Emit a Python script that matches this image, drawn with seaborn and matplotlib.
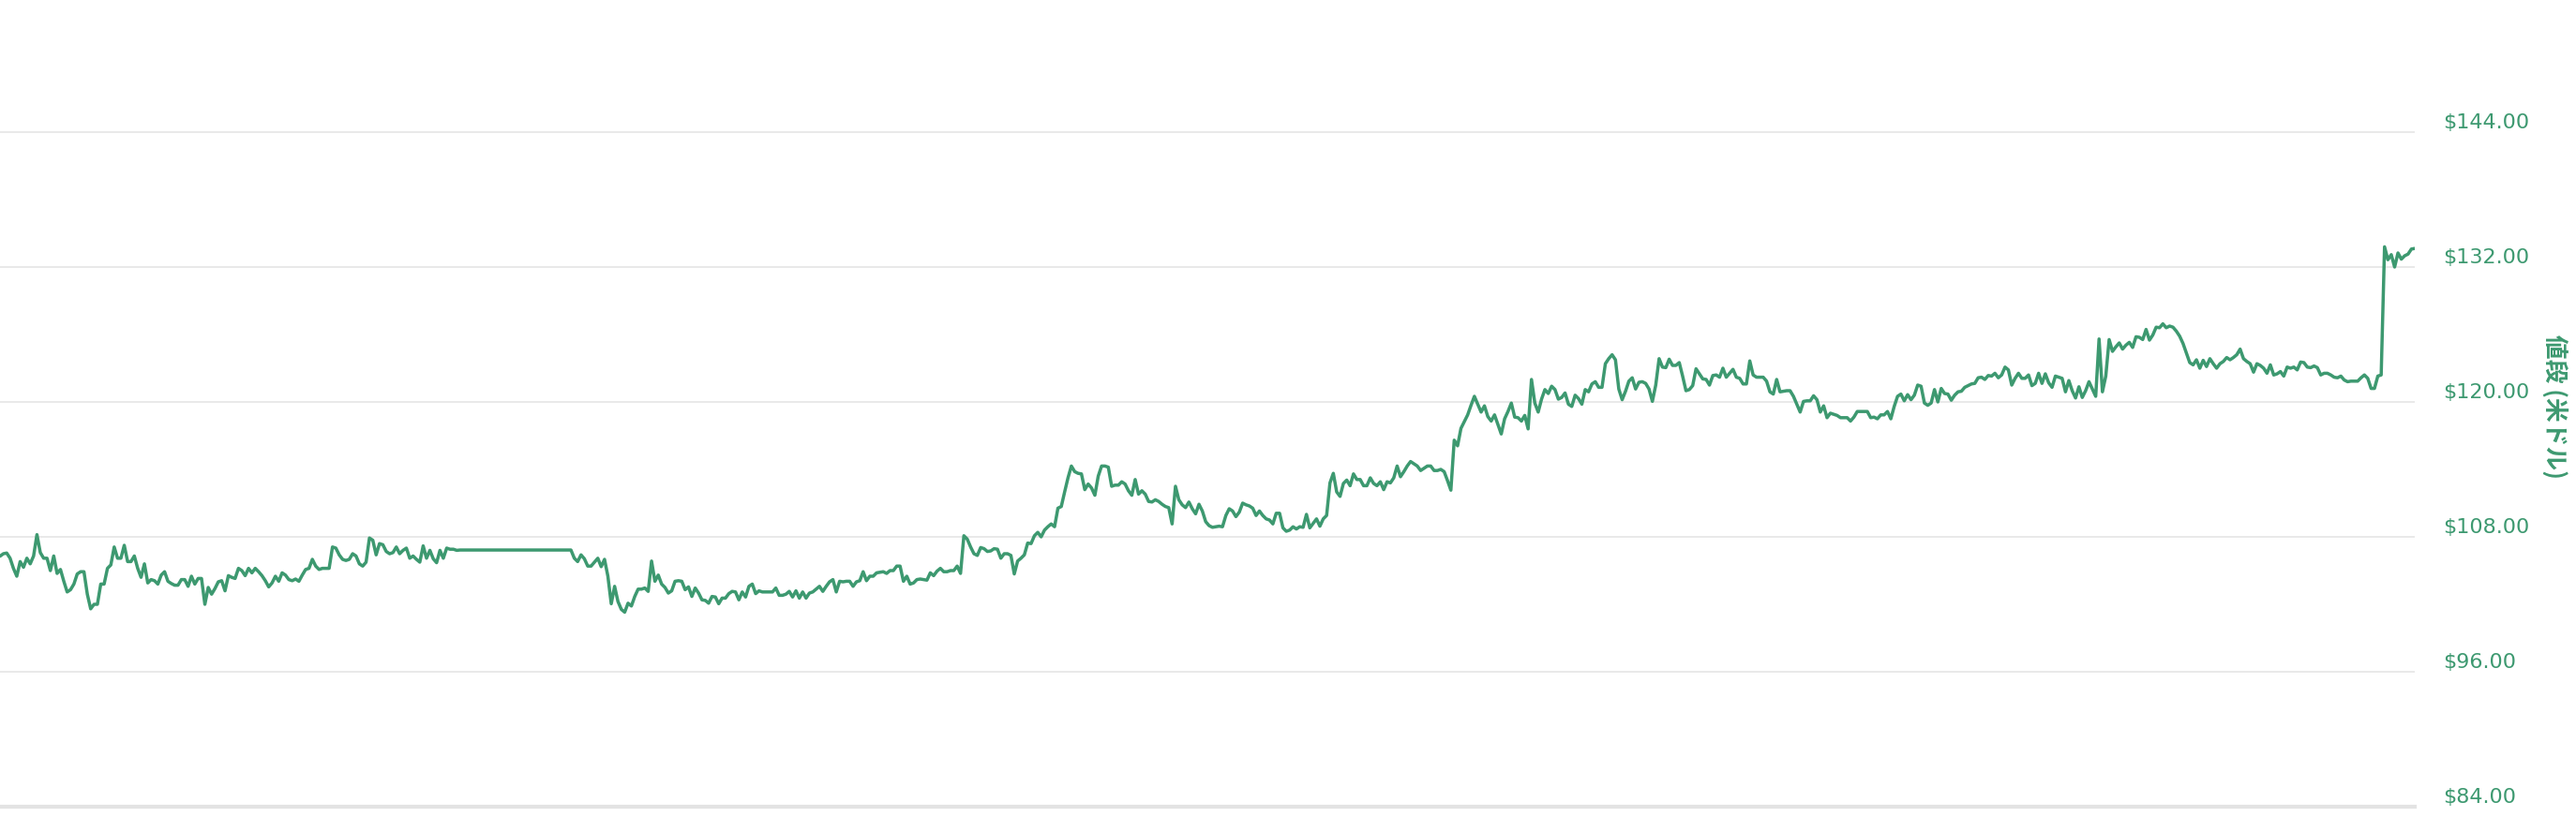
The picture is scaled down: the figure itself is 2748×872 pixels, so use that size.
import numpy as np
import pandas as pd
import matplotlib
matplotlib.use("Agg")
import matplotlib.pyplot as plt
import seaborn as sns

# daily closing price (USD)
# before the flat stretch (no trading data)
prices_before_gap = [
    106.28, 106.5, 106.56, 106.1, 105.2, 104.5, 105.8, 105.3, 106.1, 105.6,
    106.3, 108.2, 106.6, 106.1, 106.1, 105.0, 106.3, 104.75, 105.1, 104.05,
    103.1, 103.3, 103.8, 104.7, 104.9, 104.9, 102.9, 101.6, 102.0, 102.0,
    103.8, 103.8, 105.2, 105.5, 107.1, 106.1, 106.1, 107.25, 105.8, 105.8,
    106.3, 105.2, 104.4, 105.6, 103.9, 104.2, 104.1, 103.8, 104.6, 104.9,
    104.05, 103.85, 103.7, 103.7, 104.2, 104.2, 103.6, 104.5, 103.8, 104.3,
    104.3, 102.0, 103.5, 102.9, 103.4, 104.0, 104.1, 103.2, 104.55, 104.4,
    104.3, 105.2, 105.0, 104.55, 105.2, 104.8, 105.2, 104.9, 104.55, 104.1,
    103.55, 103.9, 104.5, 104.05, 104.8, 104.6, 104.2, 104.1, 104.25, 104.05,
    104.6, 105.1, 105.2, 106.0, 105.4, 105.1, 105.2, 105.2, 105.2, 107.1,
    107.0, 106.4, 106.0, 105.9, 106.0, 106.5, 106.3, 105.6, 105.4, 105.75,
    107.9, 107.7, 106.4, 107.4, 107.3, 106.7, 106.5, 106.6, 107.1, 106.5,
    106.8, 107.0, 106.1, 106.3, 106.0, 105.75, 107.2, 106.1, 106.8, 106.05,
    105.7, 106.8, 106.1, 107.0, 106.9, 106.9, 106.8, 106.83,
]
gap_days = 33

prices_after_gap = [
    106.83, 106.1, 105.8, 106.4, 106.05, 105.4, 105.4, 105.75, 106.1, 105.35,
    106.0, 104.5, 102.05, 103.6, 102.25, 101.55, 101.3, 102.1, 101.85, 102.7,
    103.35, 103.35, 103.45, 103.15, 105.85, 104.05, 104.6, 103.8, 103.5, 103.0,
    103.2, 104.05, 104.1, 104.05, 103.3, 103.55, 102.7, 103.45, 103.0, 102.4,
    102.35, 102.1, 102.7, 102.65, 102.05, 102.55, 102.55, 102.95, 103.15, 103.1,
    102.4, 103.1, 102.65, 103.6, 103.8, 102.95, 103.2, 103.1, 103.1, 103.1,
    103.1, 103.45, 102.8, 102.8, 102.9, 103.15, 102.65, 103.2, 102.55, 103.1,
    102.55, 103.0, 103.1, 103.35, 103.6, 103.15, 103.6, 104.0, 104.2, 103.1,
    104.05, 104.0, 104.05, 104.05, 103.6, 104.0, 104.1, 104.9, 104.1, 104.5,
    104.5, 104.8, 104.85, 104.9, 104.75, 105.0, 105.0, 105.4, 105.4, 104.05,
    104.5, 103.8, 103.9, 104.2, 104.25, 104.2, 104.15, 104.8, 104.55, 104.95,
    105.2, 104.9, 104.9, 105.0, 105.0, 105.4, 104.75, 108.1, 107.8, 107.1,
    106.5, 106.35, 107.05, 106.95, 106.7, 106.75, 106.95, 106.9, 106.1, 106.5,
    106.5, 106.35, 104.7, 105.85, 106.1, 106.4, 107.45, 107.4, 108.1,
    108.4, 108.0, 108.6, 108.9,
    109.15, 108.9, 110.55, 110.7, 112.0, 113.25, 114.3, 113.8, 113.65, 113.6,
    112.2, 112.7, 112.35, 111.7, 113.4, 114.3, 114.3, 114.2, 112.5, 112.6,
    112.6, 112.9, 112.7, 112.1, 111.7, 113.1, 111.8, 112.1, 111.8, 111.15,
    111.1, 111.3, 111.15, 110.9, 110.7, 110.6, 109.15, 112.5, 111.3, 110.85,
    110.6, 111.1, 110.5, 110.05, 110.9, 110.3, 109.35, 109.0, 108.85, 108.9,
    108.95, 108.9, 109.9, 110.5, 110.3, 109.8, 110.2, 111.0, 110.85, 110.75,
    110.55, 109.9, 110.3, 109.9, 109.6, 109.5, 109.15, 110.1, 110.1, 108.8,
    108.5, 108.6, 108.9, 108.7, 108.9, 108.85, 110.0, 108.8, 109.2, 109.6,
    108.95, 109.6, 109.9, 112.8, 113.65, 112.0, 111.6, 112.75, 113.05, 112.55,
    113.6, 113.1, 113.1, 112.55, 112.55, 113.25, 112.75, 112.55, 112.9, 112.2,
    112.9, 112.8, 113.25, 114.3, 113.35, 113.8, 114.3, 114.7, 114.5, 114.3,
    113.9, 114.1, 114.3, 114.3, 113.9, 113.9, 114.0, 113.8, 113.0, 112.15,
    116.6, 116.1, 117.65, 118.25, 118.85, 119.7, 120.5, 119.8, 119.1, 119.65,
    118.7, 118.3, 118.85, 118.0, 117.15, 118.5, 119.15, 119.9, 118.65, 118.6,
    118.3, 118.8, 117.6, 122.0,
    119.9, 119.1, 120.25, 121.1, 120.75, 121.4, 121.1, 120.25, 120.4, 120.8,
    119.8, 119.6, 120.6, 120.3, 119.8, 121.1, 120.9, 121.6, 121.8, 121.3,
    121.3, 123.4, 123.85, 124.2, 123.75, 121.15, 120.2, 120.95, 121.85, 122.15,
    121.15, 121.75, 121.8, 121.65, 121.15, 120.05, 121.5, 123.85, 123.1, 123.05,
    123.8, 123.25, 123.25, 123.5, 122.3, 121.0, 121.1, 121.45, 122.95, 122.5,
    122.05, 122.0, 121.5, 122.35, 122.4, 122.2, 123.0, 122.2, 122.55, 122.9,
    122.2, 122.1, 121.6, 121.6, 123.65, 122.4, 122.2, 122.2, 122.2, 121.85,
    120.9, 120.7, 122.0, 120.9, 120.95, 121.0, 121.0, 120.5, 119.8, 119.1,
    120.05, 120.1, 120.1, 120.55, 120.2, 119.1, 119.65, 118.6, 119.0, 118.9,
    118.8, 118.6, 118.6, 118.6, 118.3, 118.65, 119.15, 119.15, 119.15, 119.15,
    118.6, 118.65, 118.5, 118.85, 118.85, 119.15, 118.5, 119.6, 120.5, 120.7,
    120.1, 120.65, 120.2, 120.6, 121.5, 121.4, 119.9, 119.7, 119.9, 121.1,
    120.0, 121.2, 120.75, 120.7, 120.15, 120.6, 120.9, 120.95, 121.3, 121.45,
    121.6, 121.65, 122.15, 122.2, 122.0, 122.35, 122.3, 122.55, 122.15, 122.4,
    123.1, 122.85, 121.5, 122.1, 122.55, 122.1, 122.1, 122.4,
    121.45, 121.65, 122.55, 121.65, 122.5, 121.7, 121.3, 122.3, 122.2, 122.1,
    120.9, 121.9, 121.0, 120.35, 121.35, 120.4, 121.0, 121.8, 121.15, 120.5,
    125.6, 120.9, 122.3, 125.55, 124.5, 124.9, 125.25, 124.7, 125.05, 125.3,
    124.85, 125.8, 125.75, 125.55, 126.45, 125.5, 125.95, 126.65, 126.6, 126.95,
    126.6, 126.75, 126.65, 126.3, 125.85, 125.2, 124.35, 123.5, 123.3, 123.75,
    123.0, 123.7, 123.15, 123.85, 123.4, 123.0, 123.4, 123.6, 123.95, 123.75,
    123.95, 124.2, 124.7, 123.85, 123.6, 123.4, 122.65, 123.4, 123.25, 123.0,
    122.55, 123.3, 122.4, 122.5, 122.7, 122.3, 123.1, 123.0, 123.1, 122.85,
    123.55, 123.5, 123.1, 123.05, 123.2, 123.05, 122.4, 122.55, 122.55, 122.4,
    122.2, 122.15, 122.3, 121.95, 121.8, 121.85, 121.85, 121.85, 122.15, 122.4,
    122.1, 121.2, 121.2, 122.3, 122.4, 133.8, 132.65, 133.1, 132.0, 133.25,
    132.7, 133.0, 133.15, 133.6, 133.65,
]

y_ticks = [84, 96, 108, 120, 132, 144]
y_label = "値段 (米ドル)"

green = "#3d9970"

n1 = len(prices_before_gap)
day_before = np.arange(n1)
day_after = np.arange(len(prices_after_gap)) + (n1 - 1 + gap_days)
df = pd.DataFrame({
    "day": np.concatenate([day_before, day_after]),
    "price": prices_before_gap + prices_after_gap,
})

sns.set_theme(style="white")
plt.rcParams["font.family"] = ["DejaVu Sans"]

W, H = 2748, 872
fig = plt.figure(figsize=(W / 100, H / 100), dpi=100)
ax = fig.add_axes([0, 11 / H, 2576 / W, 1 - 11 / H])

sns.lineplot(data=df, x="day", y="price", ax=ax, color=green, linewidth=2.5)

ax.set_xlim(df["day"].min(), df["day"].max())
ax.set_ylim(84, 144 + 141 / 144 * 12)
ax.set_yticks(y_ticks)
ax.set_yticklabels(["${:.2f}".format(v) for v in y_ticks])
ax.yaxis.tick_right()
ax.tick_params(axis="y", length=0, pad=22, labelsize=16, labelcolor=green)
for lab in ax.get_yticklabels():
    lab.set_va("bottom")
ax.set_xticks([])
ax.set_xlabel("")
ax.set_ylabel("")
ax.grid(axis="y", color="#e3e3e3", linewidth=1.1)
ax.set_axisbelow(True)
for side in ["top", "left", "right"]:
    ax.spines[side].set_visible(False)
ax.spines["bottom"].set_color("#e3e3e3")
ax.spines["bottom"].set_linewidth(3)

fig.text(2725 / W, 1 - 434 / H, y_label, rotation=270, ha="center", va="center",
         fontsize=18.5, fontweight="bold", color=green,
         family=["Noto Sans CJK JP", "DejaVu Sans"])

fig.savefig("out.png", dpi=100, facecolor="white")
